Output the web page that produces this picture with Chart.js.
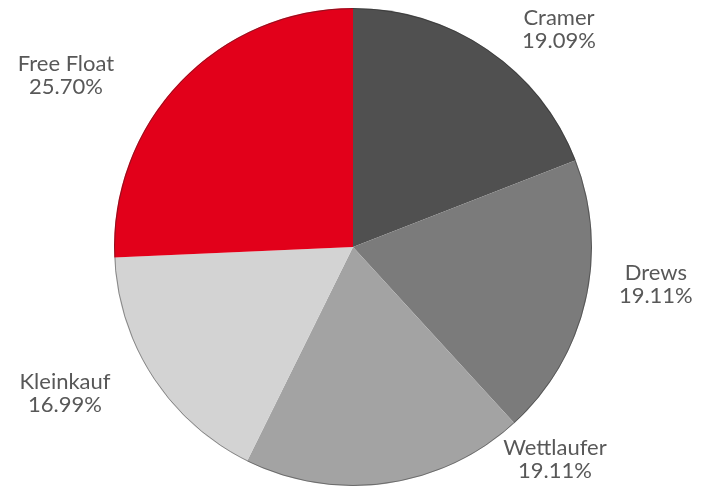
<!DOCTYPE html>
<html>
<head>
<meta charset="utf-8">
<script src="https://cdn.jsdelivr.net/npm/chart.js@4.4.1/dist/chart.umd.min.js"></script>
<style>
  html, body { margin: 0; padding: 0; background: #fff; }
  #wrap { position: relative; width: 711px; height: 486px; }
</style>
</head>
<body>
<div id="wrap"><canvas id="shareChart"></canvas></div>
<script>
const holders = ['Cramer', 'Drews', 'Wettlaufer', 'Kleinkauf', 'Free Float'];
const shares = [19.09, 19.11, 19.11, 16.99, 25.70];
const sliceColors = ['#505050', '#7b7b7b', '#a3a3a3', '#d3d3d3', '#e2001a'];

// label anchor for each slice, as (dx, dy) from the pie centre in radius units
const labelAnchors = [
  [0.862, -0.911],
  [1.267, 0.155],
  [0.845, 0.888],
  [-1.205, 0.611],
  [-1.201, -0.716]
];

// free-standing labels: name on one line, share below it
const outsideLabels = {
  id: 'outsideLabels',
  afterDatasetsDraw(chart) {
    const { ctx } = chart;
    const arcs = chart.getDatasetMeta(0).data;
    if (!arcs.length) return;
    const { x, y, outerRadius } = arcs[0];

    // thin darker rim round the pie
    ctx.save();
    ctx.beginPath();
    ctx.arc(x, y, outerRadius - 0.5, 0, Math.PI * 2);
    ctx.strokeStyle = 'rgba(40, 40, 40, 0.45)';
    ctx.lineWidth = 1;
    ctx.stroke();

    ctx.font = '22px Lato, "Open Sans", sans-serif';
    ctx.fillStyle = '#585858';
    ctx.textAlign = 'center';
    ctx.textBaseline = 'middle';
    holders.forEach((name, i) => {
      const lx = x + labelAnchors[i][0] * outerRadius;
      const ly = y + labelAnchors[i][1] * outerRadius;
      ctx.fillText(name, lx, ly - 11.5);
      ctx.fillText(shares[i].toFixed(2) + '%', lx, ly + 11.5);
    });
    ctx.restore();
  }
};

const shareChart = new Chart(document.getElementById('shareChart'), {
  type: 'pie',
  data: {
    labels: holders,
    datasets: [{
      data: shares,
      backgroundColor: sliceColors,
      borderWidth: 0,
      hoverOffset: 0
    }]
  },
  options: {
    responsive: true,
    maintainAspectRatio: false,
    animation: false,
    layout: {
      padding: { left: 114, right: 119, top: 8, bottom: 0 }
    },
    plugins: {
      legend: { display: false },
      tooltip: { enabled: false }
    }
  },
  plugins: [outsideLabels]
});
</script>
</body>
</html>
